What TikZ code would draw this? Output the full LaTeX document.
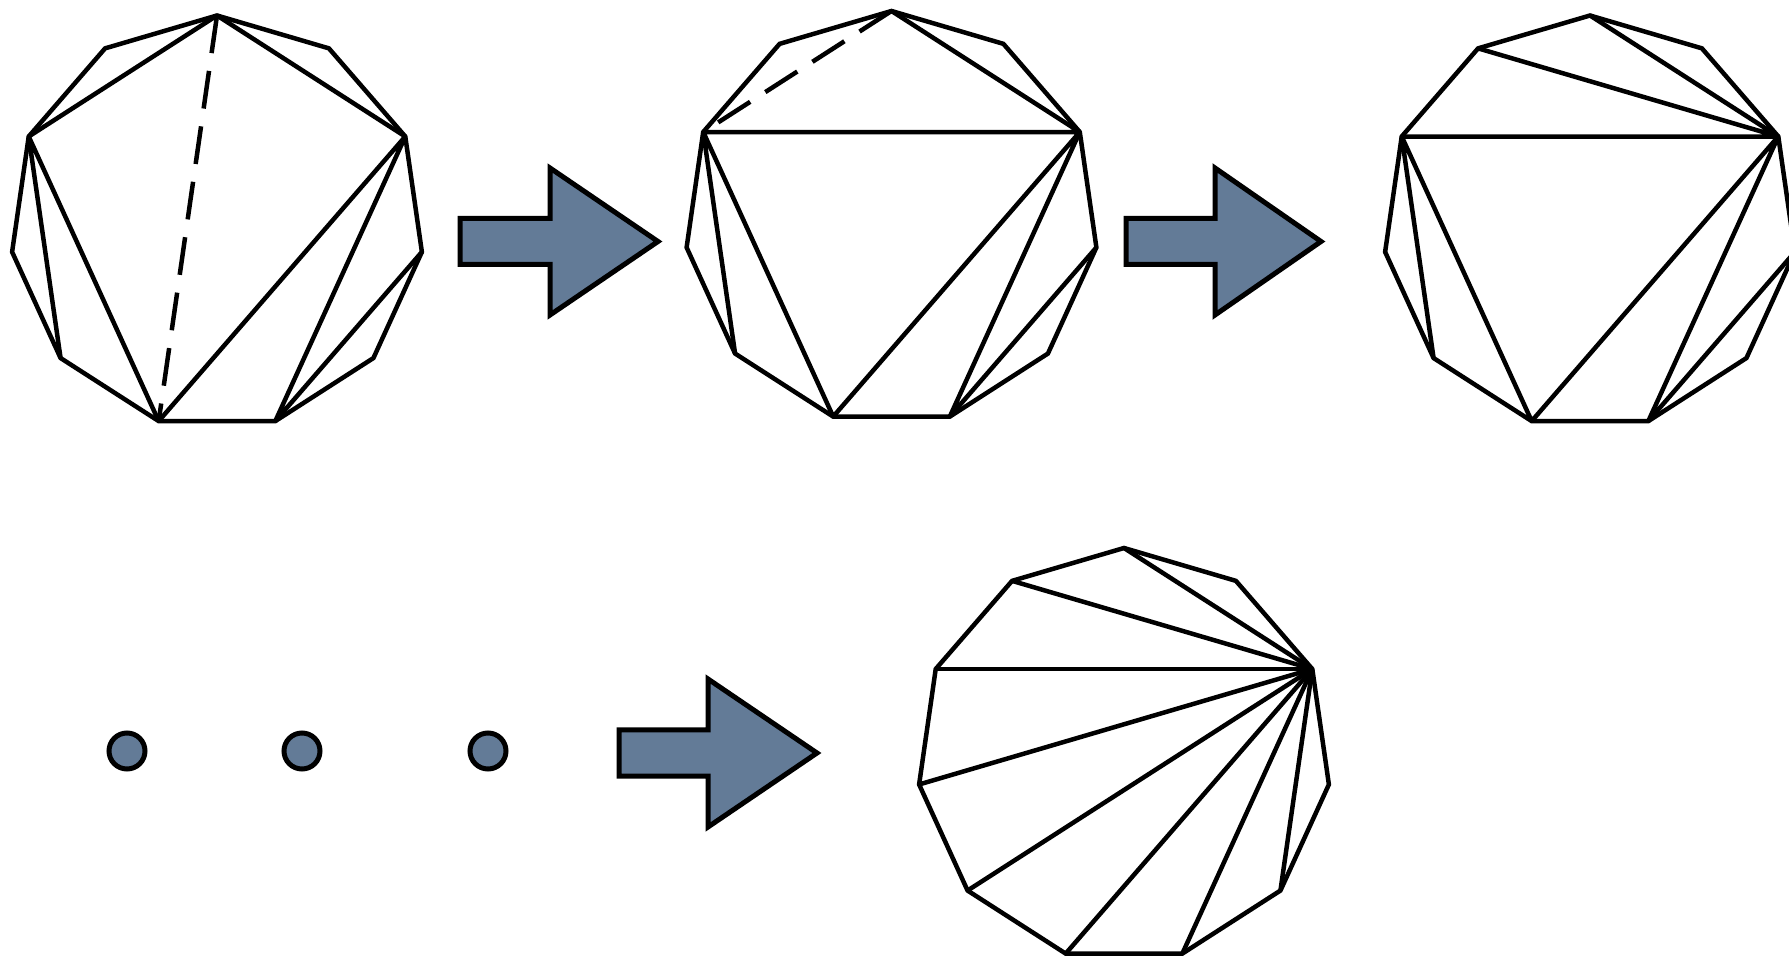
\documentclass[tikz,border=0pt]{standalone}
\definecolor{slate}{RGB}{99,123,151}
\tikzset{
  edge/.style={line width=2.25pt, line join=miter},
  flipdash/.style={line width=2.25pt, dash pattern=on 19pt off 9pt},
  blockarrow/.style={line width=2.5pt, fill=slate, draw=black},
  dot/.style={line width=2.5pt, fill=slate, draw=black}
}
\begin{document}
\begin{tikzpicture}[x=0.5pt,y=-0.5pt]
\clip (0,0) rectangle (1789,956);
\fill[white] (0,0) rectangle (1789,956);
% vertices of the four 11-gons
\foreach \k in {0,...,10}{
  \coordinate (A\k) at ({217+207*cos(-90+\k*360/11)},{222.5+207*sin(-90+\k*360/11)});
  \coordinate (B\k) at ({891.5+207*cos(-90+\k*360/11)},{218+207*sin(-90+\k*360/11)});
  \coordinate (C\k) at ({1590+207*cos(-90+\k*360/11)},{222.5+207*sin(-90+\k*360/11)});
  \coordinate (D\k) at ({1124+207*cos(-90+\k*360/11)},{755+207*sin(-90+\k*360/11)});
}
% polygon 1
\draw[edge] (A0)--(A1)--(A2)--(A3)--(A4)--(A5)--(A6)--(A7)--(A8)--(A9)--(A10)--cycle;
\draw[edge] (A0)--(A9) (A0)--(A2) (A9)--(A6) (A9)--(A7) (A2)--(A6) (A2)--(A5) (A5)--(A3);
\draw[flipdash] (A0)--(A6);
% polygon 2
\draw[edge] (B0)--(B1)--(B2)--(B3)--(B4)--(B5)--(B6)--(B7)--(B8)--(B9)--(B10)--cycle;
\draw[edge] (B0)--(B2) (B9)--(B2) (B9)--(B6) (B9)--(B7) (B2)--(B6) (B2)--(B5) (B5)--(B3);
\draw[flipdash] (B0)--(B9);
% polygon 3
\draw[edge] (C0)--(C1)--(C2)--(C3)--(C4)--(C5)--(C6)--(C7)--(C8)--(C9)--(C10)--cycle;
\draw[edge] (C0)--(C2) (C10)--(C2) (C9)--(C2) (C9)--(C6) (C9)--(C7) (C2)--(C6) (C2)--(C5) (C5)--(C3);
% polygon 4
\draw[edge] (D0)--(D1)--(D2)--(D3)--(D4)--(D5)--(D6)--(D7)--(D8)--(D9)--(D10)--cycle;
\foreach \k in {0,10,9,8,7,6,5,4}{ \draw[edge] (D2)--(D\k); }
% block arrows
\draw[blockarrow] (460,218.5)--(550,218.5)--(550,168)--(658,241.5)--(550,315)--(550,264.5)--(460,264.5)--cycle;
\draw[blockarrow] (1126,218.5)--(1215,218.5)--(1215,168)--(1321,241.5)--(1215,315)--(1215,264.5)--(1126,264.5)--cycle;
\draw[blockarrow] (619,730)--(708,730)--(708,679)--(817,753)--(708,827)--(708,776)--(619,776)--cycle;
% dots
\draw[dot] (127,751) circle[radius=18];
\draw[dot] (302,751) circle[radius=18];
\draw[dot] (488,751) circle[radius=18];
\end{tikzpicture}
\end{document}
